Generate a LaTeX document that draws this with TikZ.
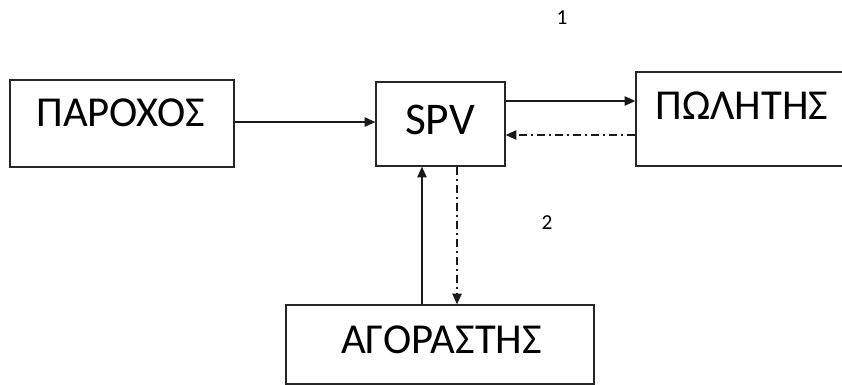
\documentclass[tikz,border=0pt]{standalone}
\usepackage{fontspec}
\setmainfont{Carlito}
\usetikzlibrary{arrows.meta}

\begin{document}
\begin{tikzpicture}[
x=0.75pt,y=-0.75pt,
box/.style={rectangle,draw=black!85,line width=1pt,fill=white,inner sep=0pt},
word/.style={inner sep=0pt,font=\fontsize{32}{35}\selectfont},
num/.style={inner sep=0pt,font=\fontsize{16}{18}\selectfont},
arrow/.style={-{Triangle[length=8pt,width=7pt]},line width=1pt,draw=black!90},
dashdot/.style={dash pattern=on 6pt off 3pt on 1.5pt off 3pt}
]
\clip (0,0) rectangle (842,385);
\node[box,minimum width=168pt,minimum height=65.25pt] (parochos) at (122,123.5) {};
\node[box,minimum width=96.75pt,minimum height=63pt] (spv) at (440.5,124) {};
\node[box,minimum width=156.75pt,minimum height=70.5pt] (politis) at (740.5,119) {};
\node[box,minimum width=231pt,minimum height=59.25pt] (agorastis) at (440,344.5) {};
\node[word] (tparochos) at (121,113) {ΠΑΡΟΧΟΣ};
\node[word,font=\fontsize{34}{37}\selectfont] (tspv) at (440,120) {SPV};
\node[word] (tpolitis) at (742,106) {ΠΩΛΗΤΗΣ};
\node[word] (tagorastis) at (441.5,340) {ΑΓΟΡΑΣΤΗΣ};
\node[num] (one) at (562,18) {1};
\node[num] (two) at (547,223) {2};
% connectors
\coordinate (p1) at ([yshift=1.1pt]parochos.east);
\coordinate (s1) at ([yshift=17.25pt]spv.east);
\coordinate (s2) at ([yshift=-8.25pt]spv.east);
\coordinate (s3) at ([xshift=-13.9pt]spv.south);
\coordinate (s4) at ([xshift=12.4pt]spv.south);
\draw[arrow] (p1) -- (p1 -| spv.west);
\draw[arrow] (s1) -- (s1 -| politis.west);
\draw[arrow,dashdot] (s2 -| politis.west) -- (s2);
\draw[arrow] (s3 |- agorastis.north) -- (s3);
\draw[arrow,dashdot] (s4) -- (s4 |- agorastis.north);
\end{tikzpicture}
\end{document}
